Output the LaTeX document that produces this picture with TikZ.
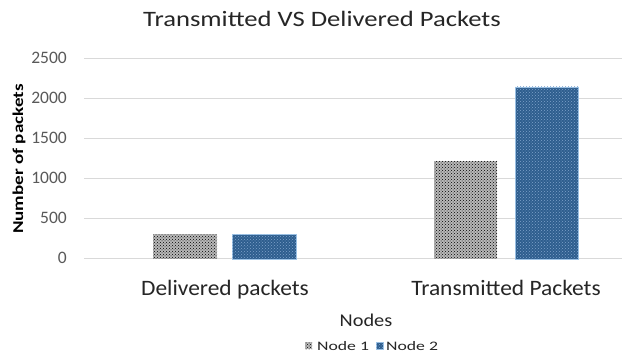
\documentclass[tikz,border=0pt]{standalone}
\usepackage{fontspec}
\setmainfont{Carlito}
\usetikzlibrary{patterns}
\definecolor{gridc}{HTML}{D9D9D9}
\definecolor{tickc}{HTML}{595959}
\definecolor{txtc}{HTML}{262626}
\definecolor{blueb}{HTML}{2E5E8E}
\definecolor{bluedot}{HTML}{7FA3CC}
\definecolor{blueedge}{HTML}{9DC3E6}
\definecolor{grayb}{HTML}{B8B8B8}
% wide text: \wide{factor}{text}
\newcommand{\wide}[2]{\scalebox{#1}[1]{#2}}
\tikzset{
  gridline/.style={draw=gridc, line width=1pt},
  ticklbl/.style={anchor=east, text=tickc, font=\fontsize{17.5}{17.5}\selectfont, inner sep=0pt},
  catlbl/.style={anchor=base, text=txtc, font=\fontsize{22}{22}\selectfont, inner sep=0pt},
  barone/.style={fill=grayb, postaction={pattern=crosshatch dots, pattern color=black}},
  bartwo/.style={fill=blueb, draw=blueedge, line width=0.8pt, postaction={pattern=crosshatch dots, pattern color=bluedot}},
  legtxt/.style={anchor=base west, text=txtc, font=\fontsize{13}{13}\selectfont, inner sep=0pt},
}
\begin{document}
\begin{tikzpicture}[x=1pt, y=-1pt]
\useasboundingbox[fill=white] (0,0) rectangle (644,352);
% title
\node[anchor=base, text=txtc, font=\fontsize{22}{22}\selectfont, inner sep=0pt] (title) at (322,27) {\wide{1.21}{Transmitted VS Delivered Packets}};
% horizontal grid and value labels
\foreach \v [count=\i from 0] in {0,500,1000,1500,2000,2500} {
  \draw[gridline] (84,{259-40*\i}) -- (622,{259-40*\i});
  \node[ticklbl] (tick\i) at (67,{258-40*\i}) {\wide{1.0}{\v}};
}
% bars: 40 px per 500 packets, baseline at y=259
\fill[barone] (153,259) rectangle (217,{259-310*0.08});
\filldraw[bartwo] (232,259) rectangle (296,{259-305*0.08});
\fill[barone] (434,259) rectangle (497,{259-1225*0.08});
\filldraw[bartwo] (515,259) rectangle (578,{259-2150*0.08});
% category labels
\node[catlbl] (catA) at (225,295) {\wide{1.064}{Delivered packets}};
\node[catlbl] (catB) at (506,295) {\wide{1.064}{Transmitted Packets}};
% axis titles
\node[anchor=base, text=txtc, font=\fontsize{18}{18}\selectfont, inner sep=0pt] (xtitle) at (366,326) {\wide{1.13}{Nodes}};
\node[rotate=90, anchor=base, text=black, font=\bfseries\fontsize{15}{15}\selectfont, inner sep=0pt] (ytitle) at (23,159) {\wide{1.27}{Number of packets}};
% legend
\fill[barone] (305,342) rectangle (312,349);
\node[legtxt] (legA) at (317,350) {\wide{1.36}{Node 1}};
\filldraw[bartwo] (376,342) rectangle (383,349);
\node[legtxt] (legB) at (386,350) {\wide{1.36}{Node 2}};
\end{tikzpicture}
\end{document}
